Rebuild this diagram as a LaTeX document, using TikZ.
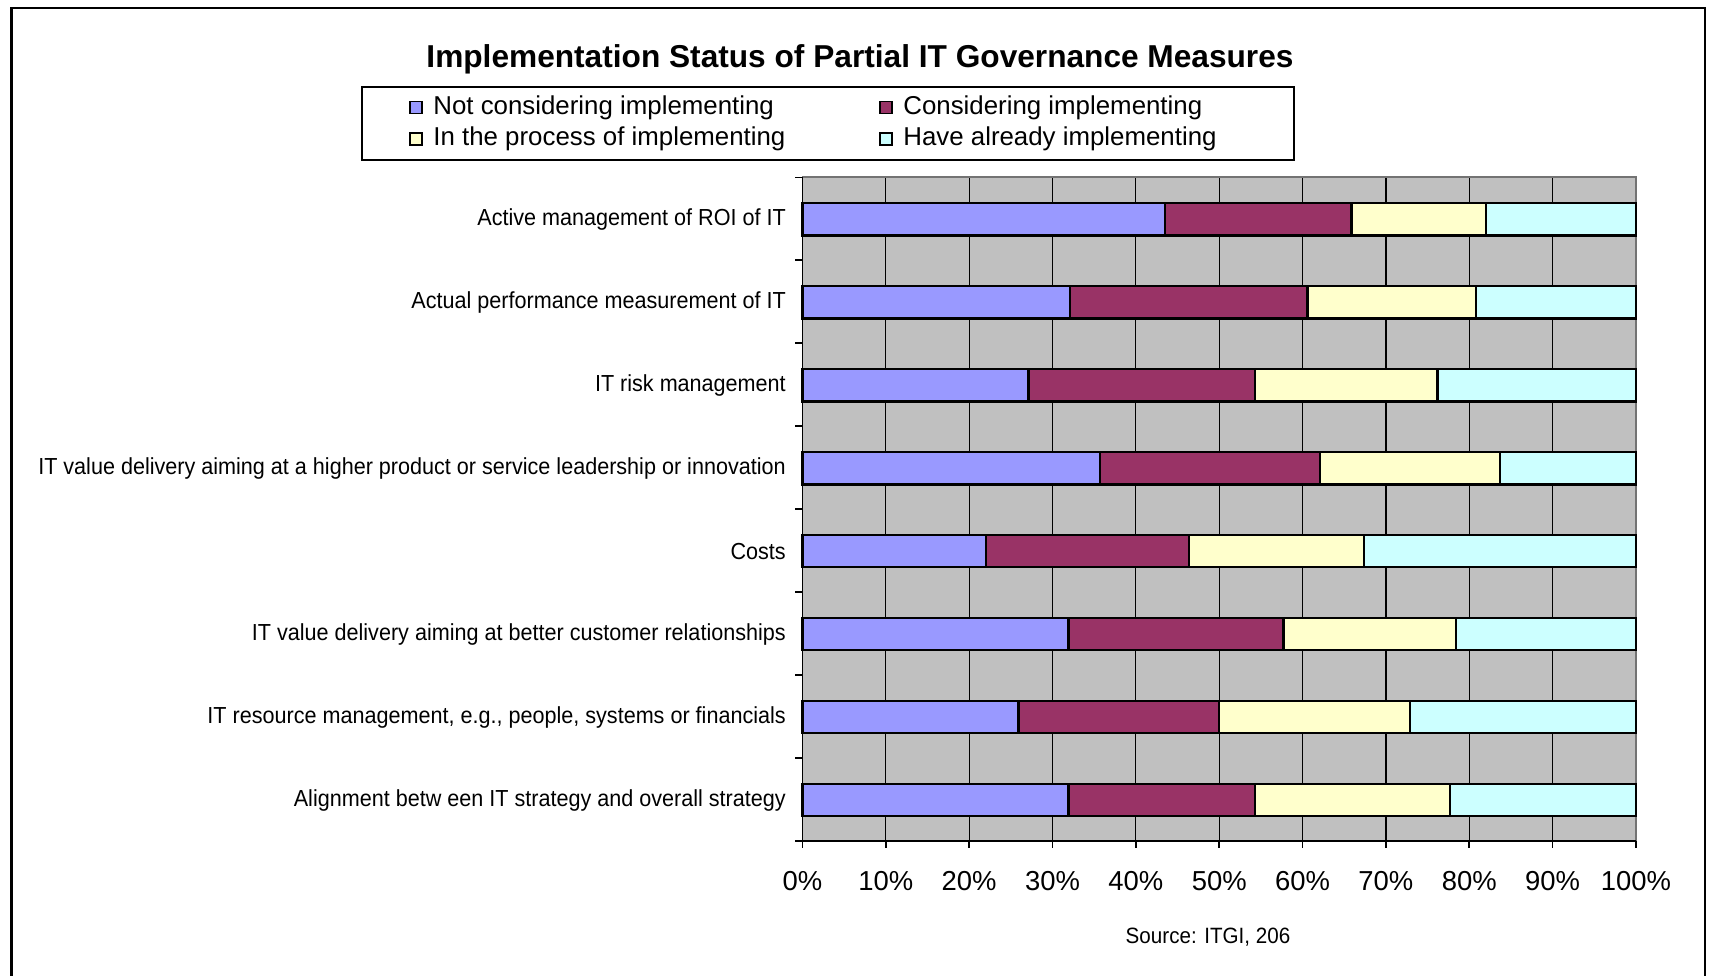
\documentclass[tikz,border=0pt]{standalone}
\usepackage{fontspec}
\setmainfont{Liberation Sans}
\newfontfamily\narrowfont[FakeStretch=0.93]{Liberation Sans}
\usetikzlibrary{positioning}
\definecolor{notcons}{HTML}{9999FF}
\definecolor{cons}{HTML}{993366}
\definecolor{inproc}{HTML}{FFFFCC}
\definecolor{already}{HTML}{CCFFFF}
\definecolor{plotgray}{HTML}{C0C0C0}

\begin{document}
\begin{tikzpicture}[x=0.01cm, y=-0.01cm,
  bar seg/.style={draw=black, line width=0.7pt},
  cat label/.style={anchor=east, inner sep=0pt, font=\narrowfont\fontsize{6.6}{8}\selectfont},
  tick label/.style={inner sep=0pt, font=\fontsize{7.8}{9}\selectfont},
  legend key/.style={draw=black, line width=0.4pt, minimum size=0.12cm, inner sep=0pt},
  legend text/.style={anchor=west, inner sep=0pt, font=\fontsize{7.35}{9}\selectfont}]
\useasboundingbox (0,0) rectangle (1714,975);

% frame, open at the bottom
\draw[line width=0.6pt] (11.5,990) -- (11.5,7.6) -- (1705,7.6) -- (1705,990);

\node[font=\bfseries\fontsize{9}{11}\selectfont] (title) at (860,59) {Implementation Status of Partial IT Governance Measures};

% legend
\node[draw=black, line width=0.5pt, minimum width=9.32cm, minimum height=0.725cm, inner sep=0pt] (legend) at (828,123.5) {};
\node[legend key, fill=notcons] (keyA) at (416,107.5) {};
\node[legend text, right=0.1cm of keyA] (txtA) {Not considering implementing};
\node[legend key, fill=inproc] (keyB) at (416,139) {};
\node[legend text, right=0.1cm of keyB] (txtB) {In the process of implementing};
\node[legend key, fill=cons] (keyC) at (886,107.5) {};
\node[legend text, right=0.1cm of keyC] (txtC) {Considering implementing};
\node[legend key, fill=already] (keyD) at (886,139) {};
\node[legend text, right=0.1cm of keyD] (txtD) {Have already implementing};

\begin{scope}[xshift=8.02cm, yshift=-1.773cm, x=0.0833cm, y=-0.829cm]
\fill[plotgray] (0,0) rectangle (100,8);
\foreach \p in {10,20,...,90}
  \draw[line width=0.35pt] (\p,0) -- (\p,8);
\draw[black!55, line width=0.6pt] (0,0) -- (100,0) -- (100,8);
\draw[line width=0.5pt] (0,0) -- (0,8) -- (100,8);

% axis ticks
\foreach \k in {0,...,8}
  \draw[line width=0.5pt] (-0.85,\k) -- (0,\k);
\foreach \p in {0,10,...,100} {
  \draw[line width=0.5pt] (\p,8) -- (\p,8.085);
  \node[tick label] (tick\p) at (\p,8.48) {\p\%};
}

% bars: end of blue / red / yellow, rest cyan
\foreach \lab/\a/\b/\c [count=\k from 0] in {
  {Active management of ROI of IT}/43.5/65.9/82.0,
  {Actual performance measurement of IT}/32.1/60.6/80.8,
  {IT risk management}/27.1/54.3/76.2,
  {IT value delivery aiming at a higher product or service leadership or innovation}/35.7/62.1/83.7,
  {Costs}/22.0/46.4/67.4,
  {IT value delivery aiming at better customer relationships}/31.9/57.7/78.4,
  {IT resource management, e.g., people, systems or financials}/25.9/50.0/72.9,
  {Alignment betw een IT strategy and overall strategy}/31.9/54.3/77.7} {
  \draw[bar seg, fill=notcons] (0,\k+0.31) rectangle (\a,\k+0.70);
  \draw[bar seg, fill=cons] (\a,\k+0.31) rectangle (\b,\k+0.70);
  \draw[bar seg, fill=inproc] (\b,\k+0.31) rectangle (\c,\k+0.70);
  \draw[bar seg, fill=already] (\c,\k+0.31) rectangle (100,\k+0.70);
  \node[cat label] (cat\k) at (-1.92,\k+0.51) {\lab};
}
\end{scope}

\node[font=\narrowfont\fontsize{6.3}{8}\selectfont] (source) at (1208,937) {Source: ITGI, 206};
\end{tikzpicture}
\end{document}
